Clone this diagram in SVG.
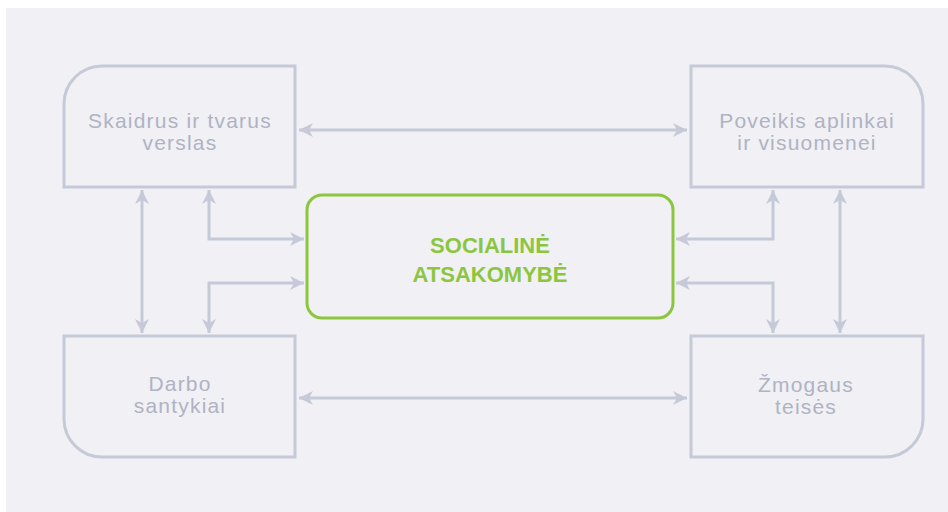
<svg xmlns="http://www.w3.org/2000/svg" width="948" height="512" viewBox="0 0 948 512">
  <style>
    .box { fill: none; stroke: #c6cad8; stroke-width: 3; }
    .lbl { font-family: "Liberation Sans", Arial, sans-serif; font-size: 21px; fill: #afb3c3; text-anchor: middle; letter-spacing: 1.2px; }
    .conn { fill: none; stroke: #c6cad8; stroke-width: 3; marker-start: url(#ah); marker-end: url(#ah); }
    .core { fill: none; stroke: #8cc63f; stroke-width: 3; }
    .corelbl { font-family: "Liberation Sans", Arial, sans-serif; font-size: 22px; font-weight: bold; fill: #8cc63f; text-anchor: middle; }
  </style>
  <defs>
    <marker id="ah" markerUnits="userSpaceOnUse" markerWidth="16" markerHeight="14" refX="14" refY="7" orient="auto-start-reverse" viewBox="0 0 16 14">
      <path d="M0,0 L14,7 L0,14 L4,7 Z" fill="#c6cad8"/>
    </marker>
  </defs>
  <rect x="6" y="8" width="942" height="504" fill="#f0f0f5"/>
  <g id="connectors">
    <path class="conn" d="M299,130 H687"/>
    <path class="conn" d="M299,398 H687"/>
    <path class="conn" d="M142,190 V333"/>
    <path class="conn" d="M209,190 V239 H304"/>
    <path class="conn" d="M304,283 H209 V333"/>
    <path class="conn" d="M773,190 V239 H676"/>
    <path class="conn" d="M676,283 H773 V333"/>
    <path class="conn" d="M840,190 V333"/>
  </g>
  <g id="node-skaidrus">
    <path class="box" d="M64,187 V104 A38,38 0 0 1 102,66 H295 V187 Z"/>
    <text class="lbl" x="180" y="128">Skaidrus ir tvarus</text>
    <text class="lbl" x="180" y="150">verslas</text>
  </g>
  <g id="node-poveikis">
    <path class="box" d="M691,66 H885 A38,38 0 0 1 923,104 V187 H691 Z"/>
    <text class="lbl" x="807" y="128">Poveikis aplinkai</text>
    <text class="lbl" x="807" y="150">ir visuomenei</text>
  </g>
  <g id="node-darbo">
    <path class="box" d="M64,336 H295 V457 H102 A38,38 0 0 1 64,419 Z"/>
    <text class="lbl" x="180" y="391">Darbo</text>
    <text class="lbl" x="180" y="413">santykiai</text>
  </g>
  <g id="node-zmogaus">
    <path class="box" d="M691,336 H923 V419 A38,38 0 0 1 885,457 H691 Z"/>
    <text class="lbl" x="806" y="392">Žmogaus</text>
    <text class="lbl" x="806" y="414">teisės</text>
  </g>
  <g id="node-socialine">
    <rect class="core" x="307" y="195" width="366" height="123" rx="15"/>
    <text class="corelbl" x="490" y="253">SOCIALINĖ</text>
    <text class="corelbl" x="490" y="282">ATSAKOMYBĖ</text>
  </g>
</svg>
